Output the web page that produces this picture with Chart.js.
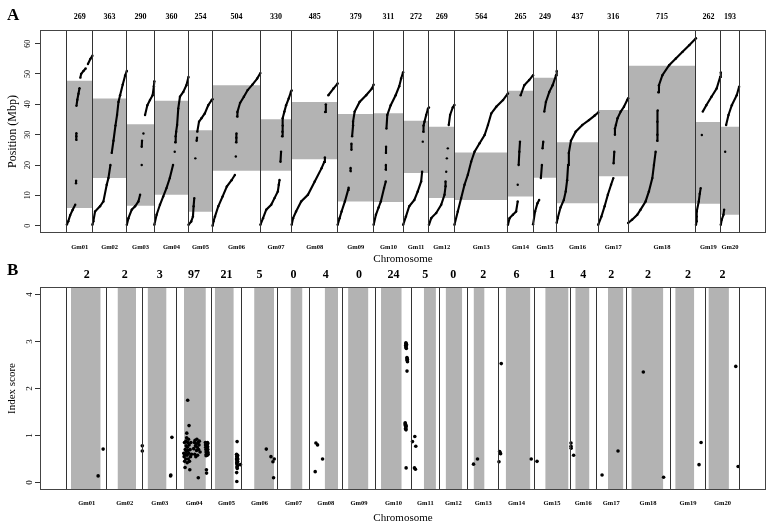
<!DOCTYPE html>
<html>
<head>
<title>Marcadores y puntuación por cromosoma</title>
<script src="https://cdn.jsdelivr.net/npm/chart.js"></script>
<style>
    body {
        margin: 0;
        background: #fff;
        font-family: 'Liberation Serif', 'DejaVu Serif', serif;
    }
    #wrap {
        position: relative;
        width: 773px;
        height: 528px;
    }
    #wrap canvas {
        position: absolute;
        left: 0;
    }
    #chartA { top: 0; }
    #chartB { top: 262px; }
    .panel {
        position: absolute;
        left: 7px;
        font-weight: bold;
        font-size: 17px;
        line-height: 17px;
    }
</style>
</head>
<body>
<div id="wrap">
    <canvas id="chartA" width="773" height="267"></canvas>
    <canvas id="chartB" width="773" height="266"></canvas>
    <div class="panel" style="top:6px">A</div>
    <div class="panel" style="top:261px">B</div>
</div>

<script>
const chromosomes = ['Gm01','Gm02','Gm03','Gm04','Gm05','Gm06','Gm07','Gm08','Gm09','Gm10',
                     'Gm11','Gm12','Gm13','Gm14','Gm15','Gm16','Gm17','Gm18','Gm19','Gm20'];
const markerCounts = [269, 363, 290, 360, 254, 504, 330, 485, 379, 311, 272, 269, 564, 265, 249, 437, 316, 715, 262, 193];
const chrLengths = [55.9, 51.7, 47.8, 49.2, 42.2, 51.4, 44.6, 47.0, 46.8, 50.9, 39.2, 40.1, 44.4, 49.7, 50.9, 37.4, 41.9, 62.3, 50.6, 47.0];
// pericentromeric region (Mbp)
const periStart = [5.8, 15.7, 6.6, 10.2, 4.6, 18.1, 18.1, 21.9, 8.0, 7.8, 17.4, 9.1, 8.5, 9.6, 15.8, 7.4, 16.3, 7.4, 7.2, 3.6];
const periEnd = [47.8, 41.9, 33.4, 41.2, 31.5, 46.3, 35.1, 40.8, 36.8, 37.1, 34.6, 32.6, 24.1, 44.5, 48.8, 27.5, 38.1, 52.7, 34.2, 32.6];
const indexCounts = [2, 2, 3, 97, 21, 5, 0, 4, 0, 24, 5, 0, 2, 6, 1, 4, 2, 2, 2, 2];
const positionTicks = [0, 10, 20, 30, 40, 50, 60];
const scoreTicks = [0, 1, 2, 3, 4];

// panel A: [marker index in chromosome, position Mbp], null = gap
const mapGm01 = [[0,0.4],[15,1.5],[35,3.5],[60,5.2],[88,6.9],null,[96,14],[97,14.8],null,[98,28.3],[99,29.5],[100,30.5],null,[101,39.5],[110,41.5],[122,43.5],[133,45.3],null,[142,48.8],[150,50],[175,51],[198,51.8],null,[222,53.3],[248,55],[269,56]];
const mapGm02 = [[0,0.3],[10,1.5],[28,4.7],[80,6.4],[116,8],[151,13.5],[169,15.7],[190,20],null,[204,24],[222,28],[243,33],[260,36.5],[275,40.8],[292,43],[320,46.5],[345,49.5],[363,51]];
const mapGm03 = [[0,0.3],[17,2.5],[52,5.3],[87,6.4],[122,8],[140,10.2],null,[157,20],null,[157,26],[160,28],null,[175,30.4],null,[192,36.5],[216,39.7],[244,41.4],[272,43],[285,46],[290,47.6]];
const mapGm04 = [[0,0.3],[24,3.6],[59,6.9],[93,9.6],[128,12.4],[163,15.7],[197,20],null,[215,24.4],null,[220,27.5],[225,29.5],[230,31],[240,33.2],[252,38.6],[270,42.5],[305,44.1],[338,46.3],[360,49]];
const mapGm05 = [[0,0.3],[29,1.4],[47,3],[54,6.4],[61,9.1],null,[72,22.2],null,[86,28],[90,29],null,[93,31],[111,34.3],[136,35.4],[172,37],[208,39.7],[244,41.4],[254,41.7]];
const mapGm06 = [[0,0],[10,1.5],[25,3],[60,6.4],[105,9.6],[150,12.9],[200,15],[235,16.7],null,[245,22.8],null,[248,27.5],[250,29],[252,30.4],null,[259,36],[262,37.5],[290,40.5],[330,42.5],[370,44.7],[420,46.5],[470,48.5],[504,50.3]];
const mapGm07 = [[0,0.3],[28,2.5],[62,5.3],[114,6.9],[149,9.1],[184,11.3],[194,13.5],[202,15.1],null,[212,21.1],[218,24.4],null,[229,29.5],[232,31],[236,33],[236,35.4],[253,37.6],[271,39.7],[298,41.9],[322,44.1],[330,44.6]];
const mapGm08 = [[0,0.3],[15,2.5],[46,4.7],[100,8],[171,10.2],[243,14.6],[314,18.9],[343,21],[350,22.5],null,[352,37.5],[360,40],null,[386,43],[440,45.2],[485,46.9]];
const mapGm09 = [[0,0.3],[20,2.5],[41,4.7],[76,8],[110,11.8],[115,12.5],null,[135,18],[136,19],null,[145,25],[145,27],null,[152,29.5],[162,33],[162,34.3],[179,37.6],[231,40.8],[300,43],[360,45.2],[379,46.5]];
const mapGm10 = [[0,0.3],[24,3.6],[52,6],[76,8],[110,12.4],[128,14.6],null,[128,18.5],[129,20],null,[130,24],[131,26],null,[135,32],[144,36.5],[180,39.7],[232,43],[270,46],[290,48.5],[311,50.6]];
const mapGm11 = [[0,0.3],[29,3],[64,6.4],[118,8.5],[154,11.3],[190,14.6],[200,17.8],null,[207,27.7],null,[212,31],[215,33],[225,34.3],[243,36.5],[261,38.5],[272,39]];
const mapGm12 = [[0,0.3],[24,2.5],[77,4.2],[129,6.9],[164,10.2],[175,13],[175,14.6],null,[182,17.8],null,[189,22.2],null,[199,25.5],null,[209,33.2],[223,36.5],[251,39],[269,39.8]];
const mapGm13 = [[0,0.3],[35,4.7],[71,9.1],[106,13.5],[141,16.8],[176,21.1],[212,24.4],[265,27.2],[318,29.9],[353,33.2],[388,37],[441,39.2],[512,41.4],[564,43.6]];
const mapGm14 = [[0,0.3],[17,2.5],[52,3.6],[86,4.7],[103,8],null,[103,13.5],null,[113,20],[120,24.4],[127,27.7],null,[134,43],[172,46.3],[224,48],[265,49.6]];
const mapGm15 = [[0,0.5],[21,4.7],[46,7.4],[64,8.5],null,[82,15.7],[93,20],null,[100,25.5],[107,27.7],null,[118,37.6],[135,40.8],[171,44.1],[206,46.3],[242,49.6],[249,51]];
const mapGm16 = [[0,1],[10,2.5],[40,6],[75,8.5],[95,11.3],[110,15],[120,20],[128,24],[150,28],[200,31],[270,33.2],[340,34.8],[400,36.3],[437,37.3]];
const mapGm17 = [[0,0.3],[34,3],[68,6.4],[102,10.2],[136,13.5],[160,15.7],null,[163,20.6],[170,24.4],null,[177,30],[177,32],[187,33.2],[204,35.4],[238,37.6],[272,39.2],[306,41.4],[316,42]];
const mapGm18 = [[0,0.9],[42,2],[96,3.6],[131,5.3],[184,8],[219,11.3],[255,15.7],[272,20],[290,24.4],null,[306,28],[308,30],[308,34.3],[312,38],null,[318,44],[325,46.3],[361,49.6],[432,52.9],[503,55.1],[574,57.3],[644,59.5],[715,61.8]];
const mapGm19 = [[0,0.3],[7,1.5],[7,3],[9,4.7],[30,8],[40,10.5],[50,12.4],null,[62,29.9],null,[72,37.6],[109,39.7],[164,42.5],[218,45.2],[255,49],[262,50.5]];
const mapGm20 = [[0,0.3],[10,2],[28,3.6],[35,5.3],null,[46,24.4],null,[56,33.2],[81,36.5],[116,39.7],[168,43],[193,45.8]];

// panel B: [position Mbp, index score]
const scoreGm01 = [[44.2,0.14],[51.3,0.71]];
const scoreGm02 = [[50.8,0.78],[50.8,0.67]];
const scoreGm03 = [[39.1,0.14],[41.0,0.96],[39.4,0.16]];
const scoreGm04 = [[10,0.62],[10.5,0.55],[11,0.85],[11.2,0.45],[11.8,0.32],[12,0.7],[12.3,0.6],[12.8,0.5],[13,0.88],[13.3,0.78],
                   [13.6,0.66],[14,0.95],[14.2,1.05],[14.5,0.58],[14.8,0.42],[15,0.75],[15.5,1.75],[15.5,0.85],[17.4,1.21],[16,0.68],
                   [16.3,0.5],[16.6,0.92],[17,0.62],[17.5,0.8],[18,0.45],[18.5,0.27],[19,0.7],[19.5,0.55],[20,0.85],[21,0.6],
                   [24,0.72],[25,0.85],[25.5,0.6],[26,0.9],[26.5,0.78],[27,0.55],[27.5,0.82],[28,0.68],[28.5,0.92],[29,0.75],
                   [29.5,0.58],[30,0.85],[30.5,0.1],[31,0.7],[31.5,0.8],[32,0.88],[33,0.65],
                   [40.5,0.85],[40.8,0.8],[41,0.75],[41.2,0.7],[41.5,0.65],[41.8,0.6],[42,0.82],[42.2,0.78],[42.5,0.72],[42.8,0.68],
                   [43,0.62],[43.2,0.58],[43.5,0.85],[43.8,0.76],[44,0.7],[44.2,0.64],[44.4,0.6],[42,0.27],[42.2,0.2],[43,0.8],[41.5,0.57],[44,0.83]];
const scoreGm05 = [[36.2,0.87],[35.5,0.6],[35.8,0.56],[36,0.52],[36.2,0.48],[36.5,0.45],[35.7,0.42],[36,0.4],[36.3,0.38],[36.8,0.35],
                   [35.4,0.5],[36.6,0.55],[37,0.44],[35.9,0.33],[36.4,0.3],[35.6,0.21],[35.8,0.02],[41,0.38],[37.2,0.5],[36.9,0.58],[36.1,0.46]];
const scoreGm06 = [[35.3,0.71],[41.9,0.55],[44.7,0.44],[46.6,0.5],[45.6,0.1]];
const scoreGm07 = [];
const scoreGm08 = [[8.5,0.23],[9.5,0.84],[11.8,0.8],[18.9,0.5]];
const scoreGm09 = [];
const scoreGm10 = [[43,2.97],[43.5,2.95],[42.8,2.92],[43.2,2.9],[44,2.93],[43,2.87],[43.6,2.85],[44.5,2.66],[45,2.62],[44.8,2.6],
                   [45.2,2.57],[44.6,2.37],[42,1.27],[42.5,1.24],[42.2,1.21],[43,1.18],[42.7,1.15],[43.2,1.12],[43.5,1.2],[43.3,0.31],
                   [42,1.25],[43,2.95],[44.7,2.64],[42.5,1.14]];
const scoreGm11 = [[1.4,0.87],[4.7,0.98],[6.1,0.77],[4.2,0.31],[5.6,0.28]];
const scoreGm12 = [];
const scoreGm13 = [[8.5,0.39],[14.1,0.5]];
const scoreGm14 = [[3.3,2.53],[1.0,0.66],[2.4,0.61],[0.1,0.44],[45.7,0.5],[1.8,0.63]];
const scoreGm15 = [[4.2,0.45]];
const scoreGm16 = [[1.4,0.84],[1.4,0.77],[1.6,0.73],[5.1,0.58]];
const scoreGm17 = [[7.9,0.16],[30.5,0.67]];
const scoreGm18 = [[24.4,2.35],[53.1,0.11]];
const scoreGm19 = [[40.9,0.38],[43.8,0.85]];
const scoreGm20 = [[42.3,2.47],[45.6,0.34]];

const mapsA = [mapGm01, mapGm02, mapGm03, mapGm04, mapGm05, mapGm06, mapGm07, mapGm08, mapGm09, mapGm10,
               mapGm11, mapGm12, mapGm13, mapGm14, mapGm15, mapGm16, mapGm17, mapGm18, mapGm19, mapGm20];
const scoresB = [scoreGm01, scoreGm02, scoreGm03, scoreGm04, scoreGm05, scoreGm06, scoreGm07, scoreGm08, scoreGm09, scoreGm10,
                 scoreGm11, scoreGm12, scoreGm13, scoreGm14, scoreGm15, scoreGm16, scoreGm17, scoreGm18, scoreGm19, scoreGm20];

Chart.defaults.font.family = "'Liberation Serif', 'DejaVu Serif', serif";
Chart.defaults.color = '#000';
Chart.defaults.animation = false;

function cumulative(sizes) {
    const starts = [];
    let acc = 0;
    sizes.forEach(function(s) { starts.push(acc); acc += s; });
    return { starts: starts, total: acc };
}

// caja del panel
const framePlugin = {
    id: 'frame',
    afterDraw(chart) {
        const a = chart.chartArea;
        const ctx = chart.ctx;
        ctx.save();
        ctx.strokeStyle = '#444';
        ctx.lineWidth = 1;
        ctx.strokeRect(Math.round(a.left) + 0.5, Math.round(a.top) + 0.5,
                       Math.round(a.right - a.left) - 1, Math.round(a.bottom - a.top) - 1);
        ctx.restore();
    }
};

function buildScales(opts) {
    const starts = opts.starts, sizes = opts.sizes, total = opts.total;
    const centers = sizes.map(function(s, i) { return starts[i] + s / 2; });
    const bounds = starts.concat([total]);
    const xMin = -0.04 * total, xMax = 1.04 * total;
    return {
        x: {
            type: 'linear', position: 'bottom', min: xMin, max: xMax,
            afterBuildTicks: function(scale) {
                scale.ticks = bounds.concat(centers).sort(function(a, b) { return a - b; })
                    .map(function(v) { return { value: v }; });
            },
            afterFit: function(scale) { scale.height = opts.bottomH; },
            ticks: {
                autoSkip: false, maxRotation: 0, padding: opts.gmPad,
                font: { size: 6.5, weight: 'bold' },
                callback: function(v) {
                    const i = centers.indexOf(v);
                    return i >= 0 ? chromosomes[i] : '';
                }
            },
            grid: {
                z: 1, drawTicks: false, lineWidth: 1,
                color: function(ctx) {
                    return ctx.tick && bounds.indexOf(ctx.tick.value) >= 0 ? '#333' : 'rgba(0,0,0,0)';
                }
            },
            border: { display: false },
            title: { display: true, text: 'Chromosome', font: { size: 11 }, padding: { top: 0, bottom: opts.titlePad } }
        },
        xTop: {
            type: 'linear', position: 'top', min: xMin, max: xMax,
            afterBuildTicks: function(scale) {
                scale.ticks = centers.map(function(v) { return { value: v }; });
            },
            afterFit: function(scale) { scale.height = opts.topH; },
            ticks: {
                autoSkip: false, maxRotation: 0, padding: opts.countPad,
                font: { size: opts.countSize, weight: 'bold' },
                callback: function(v) {
                    const i = centers.indexOf(v);
                    return i >= 0 ? String(opts.counts[i]) : '';
                }
            },
            grid: { display: false, drawTicks: false, tickLength: 0 },
            border: { display: false }
        },
        y: {
            type: 'linear', min: opts.yMin, max: opts.yMax,
            afterBuildTicks: function(scale) {
                scale.ticks = opts.yTicks.map(function(v) { return { value: v }; });
            },
            afterFit: function(scale) { scale.width = 40; },
            ticks: { minRotation: 90, maxRotation: 90, crossAlign: 'center', padding: 3, font: { size: opts.yTickSize } },
            grid: { drawOnChartArea: false, tickLength: 5, color: '#333' },
            border: { display: false },
            title: { display: true, text: opts.yTitle, font: { size: opts.yTitleSize }, padding: { top: 6, bottom: 0 } }
        }
    };
}

// ---------- panel A ----------
const layA = cumulative(markerCounts);
const datasetsA = [];
markerCounts.forEach(function(n, i) {
    const s = layA.starts[i];
    datasetsA.push({
        type: 'line', order: 2,
        data: [{ x: s, y: periStart[i] }, { x: s + n, y: periStart[i] }],
        fill: { target: { value: periEnd[i] } },
        backgroundColor: '#b3b3b3', borderWidth: 0, pointRadius: 0
    });
});
mapsA.forEach(function(pts, i) {
    const s = layA.starts[i];
    let lastX = s;
    datasetsA.push({
        type: 'line', order: 1,
        data: pts.map(function(p) {
            if (!p) return { x: lastX, y: null };
            lastX = s + p[0];
            return { x: s + p[0], y: p[1] };
        }),
        borderColor: '#000', borderWidth: 2.1, fill: false,
        pointRadius: 1.2, pointBorderWidth: 0, pointBackgroundColor: '#000', spanGaps: false
    });
});

new Chart(document.getElementById('chartA'), {
    type: 'line',
    data: { datasets: datasetsA },
    options: {
        responsive: false,
        layout: { padding: { left: 0, right: 7, top: 0, bottom: 0 } },
        plugins: { legend: { display: false }, tooltip: { enabled: false } },
        scales: buildScales({
            starts: layA.starts, sizes: markerCounts, total: layA.total, counts: markerCounts,
            bottomH: 34, topH: 30, gmPad: 10, titlePad: 1, countPad: 8, countSize: 8,
            yMin: -2.4, yMax: 64.5, yTicks: positionTicks, yTickSize: 8,
            yTitle: 'Position (Mbp)', yTitleSize: 12
        })
    },
    plugins: [framePlugin]
});

// ---------- panel B ----------
const layB = cumulative(chrLengths);
const yMinB = -0.16, yMaxB = 4.16;
const datasetsB = [];
chrLengths.forEach(function(len, i) {
    const s = layB.starts[i];
    datasetsB.push({
        type: 'line', order: 2,
        data: [{ x: s + periStart[i], y: yMinB }, { x: s + periEnd[i], y: yMinB }],
        fill: { target: { value: yMaxB } },
        backgroundColor: '#b3b3b3', borderWidth: 0, pointRadius: 0
    });
});
const pointsB = [];
scoresB.forEach(function(pts, i) {
    pts.forEach(function(p) { pointsB.push({ x: layB.starts[i] + p[0], y: p[1] }); });
});
datasetsB.push({
    type: 'scatter', order: 1, data: pointsB,
    pointRadius: 1.8, pointBorderWidth: 0, pointBackgroundColor: '#000'
});

new Chart(document.getElementById('chartB'), {
    type: 'scatter',
    data: { datasets: datasetsB },
    options: {
        responsive: false,
        layout: { padding: { left: 0, right: 7, top: 0, bottom: 0 } },
        plugins: { legend: { display: false }, tooltip: { enabled: false } },
        scales: buildScales({
            starts: layB.starts, sizes: chrLengths, total: layB.total, counts: indexCounts,
            bottomH: 38, topH: 25, gmPad: 9, titlePad: 3, countPad: 5, countSize: 12,
            yMin: yMinB, yMax: yMaxB, yTicks: scoreTicks, yTickSize: 9,
            yTitle: 'Index score', yTitleSize: 11
        })
    },
    plugins: [framePlugin]
});
</script>
</body>
</html>
